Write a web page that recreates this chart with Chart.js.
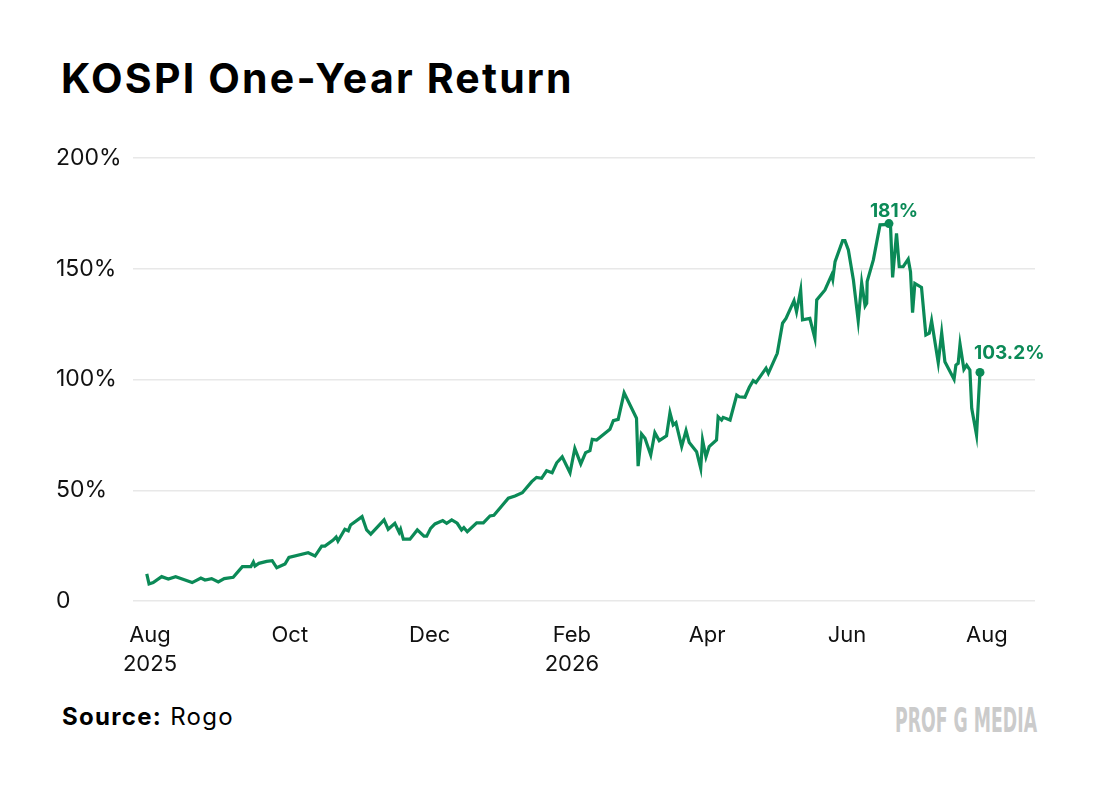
<!DOCTYPE html>
<html>
<head>
<meta charset="utf-8">
<script src="https://cdn.jsdelivr.net/npm/chart.js@4.4.1/dist/chart.umd.min.js"></script>
<style>
  html, body { margin: 0; padding: 0; background: #fff; }
  body { width: 1100px; height: 789px; position: relative; overflow: hidden; font-family: Inter, "Open Sans", sans-serif; color: #000; }
  #title { position: absolute; left: 61px; top: 58px; font-size: 41px; line-height: 41px; font-weight: 700; letter-spacing: 2.2px; white-space: nowrap; }
  #wrap { position: absolute; left: 0; top: 120px; width: 1100px; height: 580px; }
  #source { position: absolute; left: 62px; top: 705px; font-size: 24px; line-height: 24px; letter-spacing: 1.3px; white-space: nowrap; }
  #source b { font-weight: 700; }
  #logo { position: absolute; right: 63px; top: 703px; font-family: "DejaVu Sans Condensed", "Liberation Sans Narrow", sans-serif; font-weight: 700; font-size: 34px; line-height: 34px; color: #cbcbcb; white-space: nowrap; transform-origin: right top; }
</style>
</head>
<body>
<div id="title">KOSPI One-Year Return</div>
<div id="wrap"><canvas id="kospi" width="1100" height="580"></canvas></div>
<div id="source"><b>Source:</b> Rogo</div>
<div id="logo">PROF G MEDIA</div>
<script>
// days counted from 1 Aug 2025, return in %
var days = [-1.4,-0.4,1.4,5.1,8.0,11.2,15.3,18.4,22.2,24.0,
  26.9,29.8,32.4,36.3,40.3,44.0,45.1,45.8,47.5,50.9,
  53.3,55.3,58.9,60.6,69.0,72.0,74.9,76.3,79.9,81.2,
  82.0,85.0,86.5,87.5,92.5,94.5,96.3,102.1,103.9,106.8,
  108.7,109.3,110.5,113.4,116.6,119.5,120.7,122.4,124.3,127.7,
  129.4,131.6,134.0,135.9,136.9,138.4,142.5,145.4,148.3,150.0,
  152.6,156.3,159.2,162.4,166.5,168.6,170.8,173.0,175.4,177.4,
  179.8,183.2,185.3,187.9,190.0,191.9,192.9,194.8,200.6,202.1,
  204.2,206.8,212.2,212.9,214.4,215.9,218.4,220.2,222.1,225.3,
  226.8,228.2,229.4,231.9,233.8,235.2,238.4,240.2,241.0,242.5,
  243.9,247.1,247.8,249.3,250.0,253.0,255.9,257.0,259.5,261.4,
  263.1,264.3,268.7,269.7,273.6,275.9,277.4,280.9,282.0,283.8,
  284.6,287.8,290.0,290.8,294.4,296.3,297.3,297.8,298.8,302.1,
  303.1,304.6,306.8,308.9,310.4,311.9,312.6,312.8,315.5,318.4,
  320.5,322.3,323.0,323.9,325.6,326.8,328.5,330.7,331.7,332.6,
  333.6,336.5,338.4,339.9,340.9,343.8,345.3,346.7,350.7,351.5,
  352.5,353.3,355.0,356.2,357.6,358.4,360.5,362.0];

var returns = [12.2,7.7,8.3,11.0,9.9,11.0,9.5,8.3,10.4,9.5,
  10.1,8.6,10.1,10.7,15.5,15.5,17.6,15.8,17.0,17.9,
  18.2,15.0,16.7,19.7,21.8,20.3,24.8,24.8,27.5,28.9,
  27.1,32.4,31.7,34.3,38.1,32.1,30.2,36.6,32.4,35.1,
  31.0,32.4,27.9,27.9,32.1,29.3,29.3,32.8,34.8,36.3,
  35.1,36.6,35.1,32.1,33.1,31.3,35.3,35.3,38.4,38.7,
  41.9,46.4,47.4,48.9,53.9,55.8,55.4,58.8,57.9,62.4,
  65.1,57.9,68.9,61.9,67.0,67.9,73.0,72.7,77.5,81.4,
  82.0,94.0,82.5,60.9,75.4,73.5,65.9,76.0,72.4,74.6,
  85.0,79.5,80.5,69.7,76.9,71.5,67.4,59.9,72.7,65.1,
  69.7,72.7,83.2,81.7,82.9,81.7,93.0,92.2,92.0,96.5,
  99.5,98.6,105.1,102.8,111.8,125.4,127.6,135.6,130.6,140.4,
  126.9,127.6,118.6,135.9,140.4,144.9,147.2,145.2,153.2,162.7,
  162.7,158.5,144.9,126.5,143.7,133.2,134.4,144.2,154.0,169.8,
  169.9,170.4,169.0,146.1,166.0,150.9,150.9,154.3,148.7,130.2,
  143.4,141.6,120.1,120.9,126.5,107.6,121.1,108.0,100.1,106.5,
  107.3,116.0,104.6,106.5,104.3,87.0,74.9,103.2];

var tickDays = [0, 61, 122, 184, 243, 304, 365];
var tickLabels = [['Aug', '2025'], 'Oct', 'Dec', ['Feb', '2026'], 'Apr', 'Jun', 'Aug'];
var yTicks = [0, 50, 100, 150, 200];
var calloutText = ['181%', '103.2%'];

var GREEN = '#0b8a57';

// peak and last point get a dot + label
var peakIdx = returns.indexOf(Math.max.apply(null, returns));
var calloutIdx = [peakIdx, returns.length - 1];

var points = days.map(function(d, i) { return {x: d, y: returns[i]}; });

var callouts = {
  id: 'callouts',
  afterDatasetsDraw: function(chart) {
    var pts = chart.getDatasetMeta(0).data;
    var ctx = chart.ctx;
    ctx.save();
    ctx.fillStyle = GREEN;
    ctx.font = '700 19px Inter';
    ctx.textBaseline = 'alphabetic';
    calloutIdx.forEach(function(idx, k) {
      var p = pts[idx];
      ctx.beginPath();
      ctx.arc(p.x, p.y, 4.5, 0, Math.PI * 2);
      ctx.fill();
      if (k === 0) {
        ctx.textAlign = 'center';
        ctx.fillText(calloutText[k], p.x + 5, p.y - 7);
      } else {
        ctx.textAlign = 'left';
        ctx.fillText(calloutText[k], p.x - 6, p.y - 13);
      }
    });
    ctx.restore();
  }
};

Chart.defaults.font.family = 'Inter';
Chart.defaults.color = '#111';

var chart = new Chart(document.getElementById('kospi'), {
  type: 'line',
  data: {
    datasets: [{
      data: points,
      borderColor: GREEN,
      borderWidth: 3.2,
      pointRadius: 0,
      tension: 0,
      fill: false
    }]
  },
  options: {
    responsive: false,
    animation: false,
    layout: { padding: { top: 38, left: 56, right: 65, bottom: 0 } },
    plugins: { legend: { display: false }, tooltip: { enabled: false } },
    scales: {
      x: {
        type: 'linear',
        min: -7.4,
        max: 386,
        grid: { display: false },
        border: { display: false },
        afterBuildTicks: function(axis) {
          axis.ticks = tickDays.map(function(v) { return {value: v}; });
        },
        afterFit: function(axis) { axis.height = 99; },
        ticks: {
          autoSkip: false,
          maxRotation: 0,
          padding: 12,
          font: { size: 22, lineHeight: 1.32 },
          callback: function(v) {
            var i = tickDays.indexOf(v);
            return i >= 0 ? tickLabels[i] : '';
          }
        }
      },
      y: {
        min: 0,
        max: 200,
        afterBuildTicks: function(axis) {
          axis.ticks = yTicks.map(function(v) { return {value: v}; });
        },
        afterFit: function(axis) { axis.width = 77; },
        grid: { color: '#e8e8e8', lineWidth: 1.5, drawTicks: false },
        border: { display: false },
        ticks: {
          crossAlign: 'far',
          font: { size: 23 },
          callback: function(v) { return v === 0 ? '0' : v + '%'; }
        }
      }
    }
  },
  plugins: [callouts]
});

// squeeze the logo into its narrow box
var logo = document.getElementById('logo');
logo.style.transform = 'scaleX(' + (142 / logo.offsetWidth) + ')';
</script>
</body>
</html>
